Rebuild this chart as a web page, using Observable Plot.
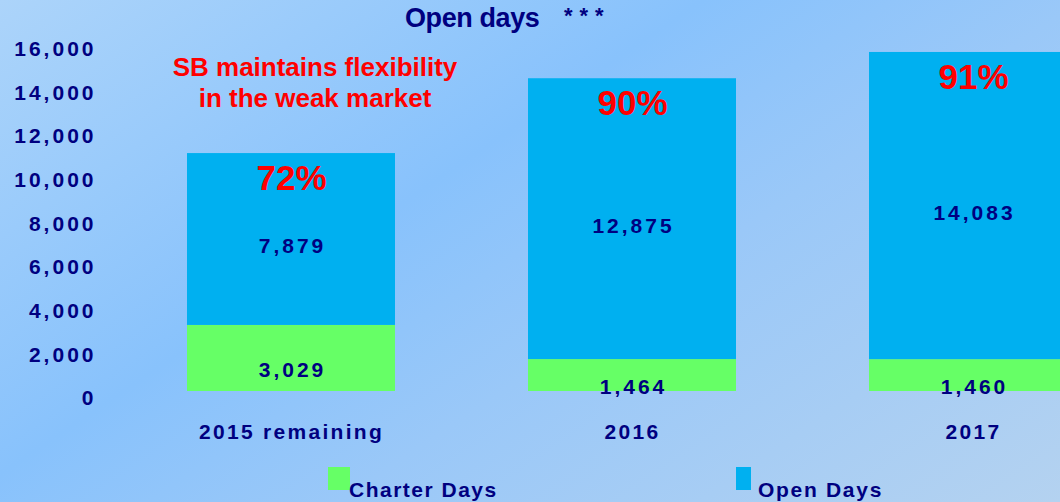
<!DOCTYPE html>
<html>
<head>
<meta charset="utf-8">
<script src="https://cdn.jsdelivr.net/npm/d3@7"></script>
<script src="https://cdn.jsdelivr.net/npm/@observablehq/plot@0.6"></script>
<style>
html, body { margin: 0; padding: 0; overflow: hidden; }
#wrap {
  position: relative; width: 1060px; height: 502px; overflow: hidden;
  background: linear-gradient(146deg, #acd4fa 0%, #88c2fc 39%, #9ac8f8 60%, #b4d2f0 100%);
  font-family: "Liberation Sans", Arial, sans-serif;
}
#chart { position: absolute; left: 0; top: 0; }
.title { position: absolute; left: 405px; top: 5px; font-size: 27px; line-height: 26px; font-weight: bold; color: #000080; letter-spacing: -0.4px; white-space: nowrap; }
.stars { position: absolute; left: 564px; top: 6px; font-size: 22px; line-height: 20px; font-weight: bold; color: #000080; letter-spacing: 7px; white-space: nowrap; }
.note { position: absolute; left: 140px; width: 350px; top: 52px; text-align: center; color: #ff0000; font-size: 26px; line-height: 31px; font-weight: bold; }
.sw { position: absolute; top: 467px; height: 23px; }
.lgt { position: absolute; top: 479px; font-size: 21px; line-height: 21px; font-weight: bold; color: #000080; white-space: nowrap; }
</style>
</head>
<body>
<div id="wrap">
  <div id="chart"></div>
  <div class="title">Open days</div>
  <div class="stars">***</div>
  <div class="note">SB maintains flexibility<br>in the weak market</div>
  <div class="sw" style="left:328px;width:22px;background:#66ff66"></div>
  <div class="lgt" style="left:349px;letter-spacing:1.5px">Charter Days</div>
  <div class="sw" style="left:736px;width:15px;background:#00b0f0"></div>
  <div class="lgt" style="left:758px;letter-spacing:1.7px">Open Days</div>
</div>
<script>
const categories = ["2015 remaining", "2016", "2017"];
const charterDays = [3029, 1464, 1460];
const openDays = [7879, 12875, 14083];
const openShare = ["72%", "90%", "91%"];
const seriesNames = ["Charter Days", "Open Days"];
const seriesColors = ["#66ff66", "#00b0f0"];
const yTicks = [0, 2000, 4000, 6000, 8000, 10000, 12000, 14000, 16000];

const fmt = d3.format(",");
const rows = categories.flatMap((c, i) => [
  {category: c, series: seriesNames[0], value: charterDays[i], base: 0},
  {category: c, series: seriesNames[1], value: openDays[i], base: charterDays[i]}
]);
const charterRows = rows.filter(d => d.series === seriesNames[0]);
const openRows = rows.filter(d => d.series === seriesNames[1]);
const totals = categories.map((c, i) => ({category: c, total: charterDays[i] + openDays[i], share: openShare[i]}));

const navy = "#000080";
const font = "Liberation Sans, Arial, sans-serif";

const chart = Plot.plot({
  width: 1060,
  height: 502,
  marginLeft: 100,
  marginRight: 0,
  marginTop: 42,
  marginBottom: 111,
  style: {background: "transparent", fontFamily: font, overflow: "hidden"},
  x: {domain: categories, range: [120.5, 1143.5], paddingInner: 0.39, paddingOuter: 0.195, axis: null},
  y: {domain: [0, 16000], range: [391, 42], axis: null},
  color: {domain: seriesNames, range: seriesColors},
  marks: [
    Plot.barY(rows, {x: "category", y: "value", fill: "series"}),
    Plot.text(yTicks, {
      y: d => d, text: d => fmt(d), frameAnchor: "left", textAnchor: "end", lineAnchor: "middle",
      dx: -4, dy: 7, fontSize: 21, fontWeight: "bold", fill: navy
    }),
    Plot.text(categories, {
      x: d => d, text: d => d, frameAnchor: "bottom", lineAnchor: "middle", dy: 41, dx: 0,
      fontSize: 21, fontWeight: "bold", fill: navy
    }),
    Plot.text(charterRows, {
      x: "category", y: d => d.base + d.value / 2, text: d => fmt(d.value),
      dy: 12, dx: 1, fontSize: 21, fontWeight: "bold", fill: navy
    }),
    Plot.text(openRows, {
      x: "category", y: d => d.base + d.value / 2, text: d => fmt(d.value),
      dy: 7, dx: 1, fontSize: 21, fontWeight: "bold", fill: navy
    }),
    Plot.text(totals, {
      x: "category", y: "total", text: "share", dy: 25,
      fontSize: 35, fontWeight: "bold", fill: "#ff0000"
    })
  ]
});
// letter spacing per text layer (tick labels, category labels, value labels)
const spacing = ["3px", "2.3px", "3px", "3px", "0px"];
chart.querySelectorAll('g[aria-label="text"]').forEach((g, i) => {
  g.style.letterSpacing = spacing[i] || "0px";
});
document.getElementById("chart").appendChild(chart);
</script>
</body>
</html>
